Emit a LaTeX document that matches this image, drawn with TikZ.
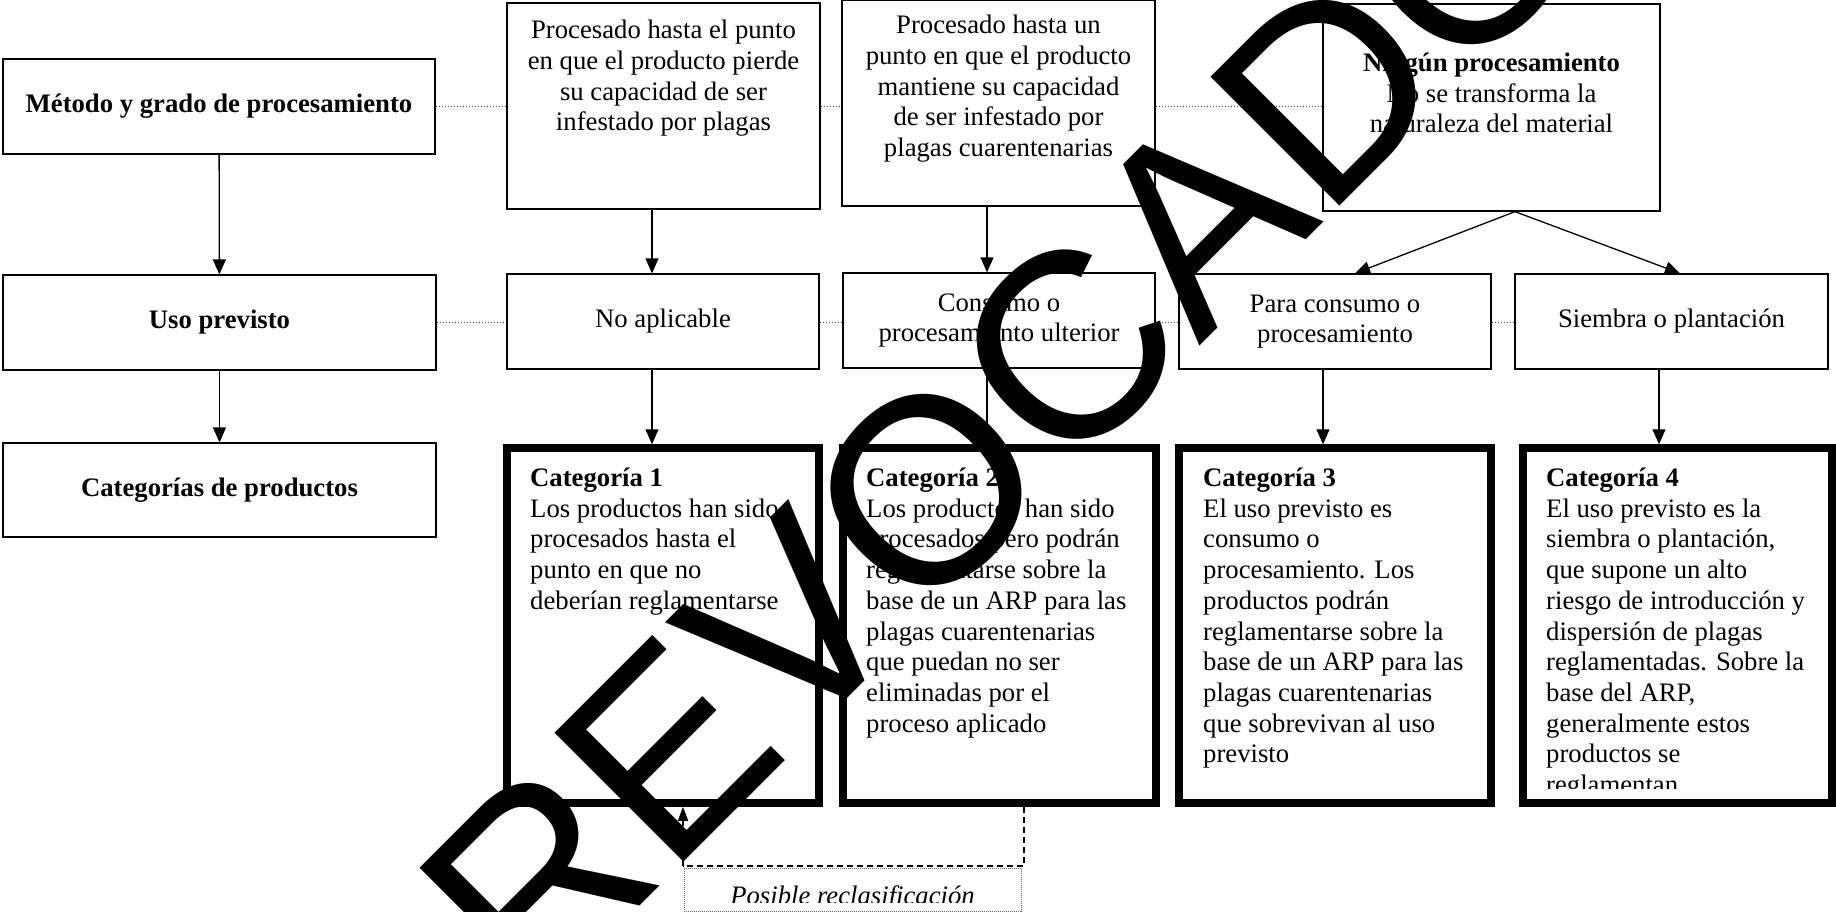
\documentclass[tikz,border=0pt]{standalone}
\usepackage{fontspec}
\setmainfont{Liberation Serif}
\newfontfamily\wmfont{Liberation Sans}
\usetikzlibrary{arrows.meta}
\begin{document}
\begin{tikzpicture}[x=1pt,y=-1pt,
  txt/.style={font=\fontsize{26.7}{30.6}\selectfont, inner sep=0pt},
  cattxt/.style={font=\fontsize{26.7}{30.7}\selectfont, inner sep=0pt, align=left, anchor=base west},
  box/.style={draw, line width=1.3pt, inner sep=0pt, font=\fontsize{26.7}{30.6}\selectfont, align=center},
  catbox/.style={draw, line width=7.5pt, inner sep=0pt, minimum width=312pt, minimum height=355pt},
  arr/.style={line width=1.3pt, -{Triangle[length=15pt,width=13pt]}},
  dotline/.style={line width=1pt, dash pattern=on 1pt off 2pt, black!75},
  dashline/.style={line width=1.6pt, dash pattern=on 6pt off 4pt},
]
\useasboundingbox (0,0) rectangle (1836,912);
\clip (0,0) rectangle (1836,912);

% left column
\node[box, minimum width=432pt, minimum height=95pt] (metodo) at (219,106.5) {\textbf{Método y grado de procesamiento}};
\node[box, minimum width=433pt, minimum height=95pt] (uso) at (219.5,322.5) {\textbf{Uso previsto}};
\node[box, minimum width=433pt, minimum height=94pt] (catp) at (219.5,490) {\textbf{Categorías de productos}};

% top row (anchor base = baseline of the last line)
\node[box, minimum width=313pt, minimum height=206pt] (t1) at (663.5,106) {};
\node[txt, align=center, anchor=base] (t1t) at (663.5,130.8) {Procesado hasta el punto\\en que el producto pierde\\su capacidad de ser\\infestado por plagas};
\node[box, minimum width=313pt, minimum height=205.5pt] (t2) at (998.5,103.25) {};
\node[txt, align=center, anchor=base] (t2t) at (998.5,156.4) {Procesado hasta un\\punto en que el producto\\mantiene su capacidad\\de ser infestado por\\plagas cuarentenarias};
\node[box, minimum width=337pt, minimum height=207pt] (t3) at (1491.5,107.5) {};
\node[txt, align=center, anchor=base] (t3t) at (1491.5,132.7) {\textbf{Ningún procesamiento}\\No se transforma la\\naturaleza del material};

% second row
\node[box, minimum width=312pt, minimum height=95pt] (noap) at (663,321.5) {No aplicable};
\node[box, minimum width=312pt, minimum height=95pt] (cons) at (999,320.5) {Consumo o\\procesamiento ulterior};
\node[box, minimum width=312pt, minimum height=95pt] (para) at (1335,321.5) {Para consumo o\\procesamiento};
\node[box, minimum width=313pt, minimum height=95pt] (siem) at (1671.5,321.5) {Siembra o plantación};

% categories
\node[catbox] (cat1) at (663,625.5) {};
\node[catbox, minimum width=313pt] (cat2) at (999.5,625.5) {};
\node[catbox] (cat3) at (1335,625.5) {};
\node[catbox, minimum width=309pt] (cat4) at (1677.5,625.5) {};

\node[cattxt] (c1t) at (530,609.3) {\textbf{Categoría 1}\\Los productos han sido\\procesados hasta el\\punto en que no\\deberían reglamentarse};
\node[cattxt] (c2t) at (866,732.1) {\textbf{Categoría 2}\\Los productos han sido\\procesados pero podrán\\reglamentarse sobre la\\base de un ARP para las\\plagas cuarentenarias\\que puedan no ser\\eliminadas por el\\proceso aplicado};
\node[cattxt] (c3t) at (1203,762.8) {\textbf{Categoría 3}\\El uso previsto es\\consumo o\\procesamiento. Los\\productos podrán\\reglamentarse sobre la\\base de un ARP para las\\plagas cuarentenarias\\que sobrevivan al uso\\previsto};
\begin{scope}
\clip (1523,448) rectangle (1832,788);
\node[cattxt] (c4t) at (1546,793.5) {\textbf{Categoría 4}\\El uso previsto es la\\siembra o plantación,\\que supone un alto\\riesgo de introducción y\\dispersión de plagas\\reglamentadas. Sobre la\\base del ARP,\\generalmente estos\\productos se\\reglamentan};
\end{scope}

% reclassification box
\node[draw=black!60, line width=0.8pt, dash pattern=on 1pt off 1pt, inner sep=0pt, minimum width=337pt, minimum height=43pt] (recl) at (852.5,889.5) {};
\begin{scope}
\clip (684,868) rectangle (1021,902);
\node[txt, anchor=base, font=\fontsize{26.7}{30.6}\selectfont\itshape] (reclt) at (852.5,904) {Posible reclasificación};
\end{scope}

% arrows
\draw[arr] (metodo) -- (uso);
\draw[arr] (uso) -- (catp);
\draw[arr] ([xshift=-11.5pt]t1.south) -- ([xshift=-11.5pt]t1.south |- noap.north);
\draw[arr] ([xshift=-11.5pt]t2.south) -- ([xshift=-11.5pt]t2.south |- cons.north);
\draw[arr] ([xshift=-11pt]noap.south) -- ([xshift=-11pt]noap.south |- cat1.north);
\draw[arr] ([xshift=-12pt]cons.south) -- ([xshift=-12pt]cons.south |- cat2.north);
\draw[arr] ([xshift=-12pt]para.south) -- ([xshift=-12pt]para.south |- cat3.north);
\draw[arr] ([xshift=-12.5pt]siem.south) -- ([xshift=-12.5pt]siem.south |- cat4.north);
\draw[arr] ([xshift=23.5pt]t3.south) -- ([xshift=20pt]para.north);
\draw[arr] ([xshift=23.5pt]t3.south) -- ([xshift=8.5pt]siem.north);

% dotted links
\draw[dotline] (metodo.east) -- (metodo.east -| t1.west);
\draw[dotline] (metodo.east -| t1.east) -- (metodo.east -| t2.west);
\draw[dotline] (metodo.east -| t2.east) -- (metodo.east -| t3.west);
\draw[dotline] (uso.east) -- (uso.east -| noap.west);
\draw[dotline] (uso.east -| noap.east) -- (uso.east -| cons.west);
\draw[dotline] (uso.east -| cons.east) -- (uso.east -| para.west);
\draw[dotline] (uso.east -| para.east) -- (uso.east -| siem.west);

% reclassification path
\coordinate (d1) at (1024,866);
\coordinate (d2) at (683,866);
\draw[dashline] (cat2.south -| d1) -- (d1) -- (d2);
\draw[dashline, -{Triangle[length=14pt,width=10pt]}] (d2) -- (cat1.south -| d2);

% watermark
\node[rotate=45, anchor=base west, inner sep=0pt, font=\wmfont\fontsize{265}{265}\selectfont] (wm) at (533,1013) {REVOCADO};
\end{tikzpicture}
\end{document}
